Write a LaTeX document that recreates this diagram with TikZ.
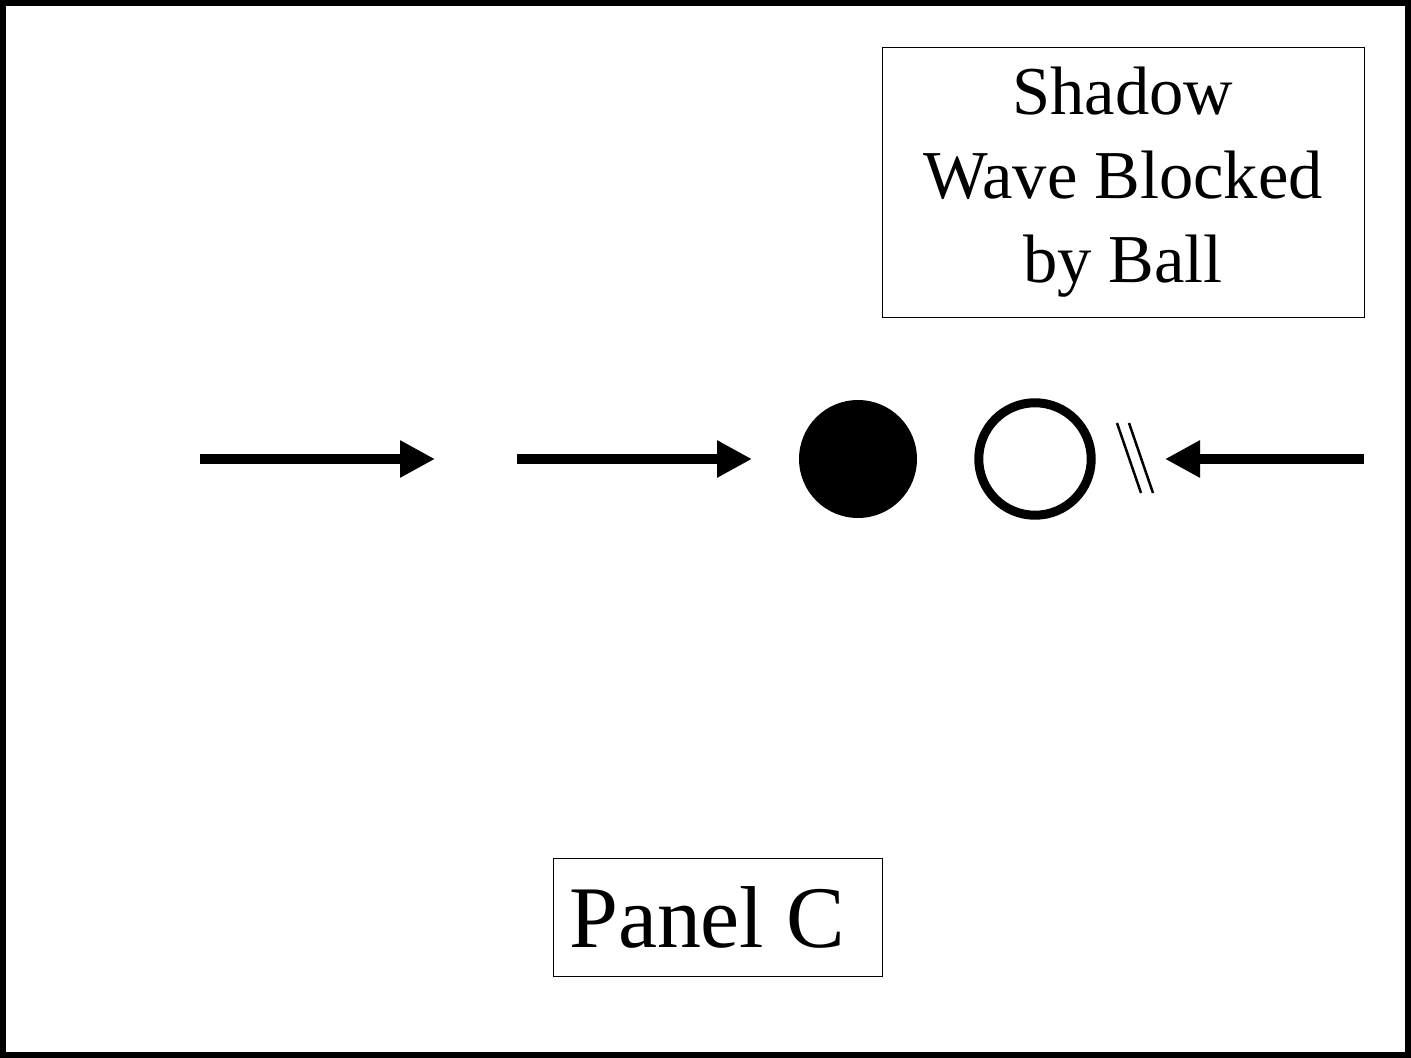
\documentclass[tikz,border=0pt]{standalone}
\usepackage{fontspec}
\setmainfont{Liberation Serif}
\usetikzlibrary{arrows.meta, positioning}
\tikzset{
    label box/.style={rectangle, draw, thin, align=center, inner sep=0pt},
    wave/.style={-{Triangle[length=0.7cm, width=0.7cm]}, line width=0.2cm},
    ball/.style={circle, draw, line width=0.18cm, minimum size=2.25cm, inner sep=0pt},
    block mark/.style={line width=0.05cm}
}
\begin{document}
\begin{tikzpicture}[x=0.02cm, y=-0.02cm]
    \useasboundingbox (0,0) rectangle (1411,1058);
    % Frame
    \draw[line width=0.14cm] (3,3) rectangle (1408,1055);

    % Labels
    \node[label box, minimum width=9.64cm, minimum height=5.4cm, font=\fontsize{39}{48}\selectfont] (title) at (1123,182) {Shadow\\ Wave Blocked\\ by Ball};
    \node[label box, minimum width=6.58cm, minimum height=2.36cm] (panel) at (717.5,917) {};
    \node[font=\fontsize{50}{60}\selectfont, anchor=west] (panel_text) at (563,917) {Panel C};

    % Balls
    \node[circle, fill=black, minimum size=2.36cm, inner sep=0pt] (solid) at (858,459) {};
    \node[ball] (hollow) at (1035,459) {};

    % Wave arrows
    \coordinate (w1s) at (200,459);
    \coordinate (w1e) at (435,459);
    \coordinate (w2s) at (517,459);
    \coordinate (w2e) at (752,459);
    \coordinate (w3s) at (1364,459);
    \coordinate (w3e) at (1165,459);
    \draw[wave] (w1s) -- (w1e);
    \draw[wave] (w2s) -- (w2e);
    \draw[wave] (w3s) -- (w3e);

    % Blocked marks
    \coordinate (m1a) at (1117,423);
    \coordinate (m1b) at (1141,493);
    \coordinate (m2a) at (1129,423);
    \coordinate (m2b) at (1153,493);
    \draw[block mark] (m1a) -- (m1b);
    \draw[block mark] (m2a) -- (m2b);
\end{tikzpicture}
\end{document}
